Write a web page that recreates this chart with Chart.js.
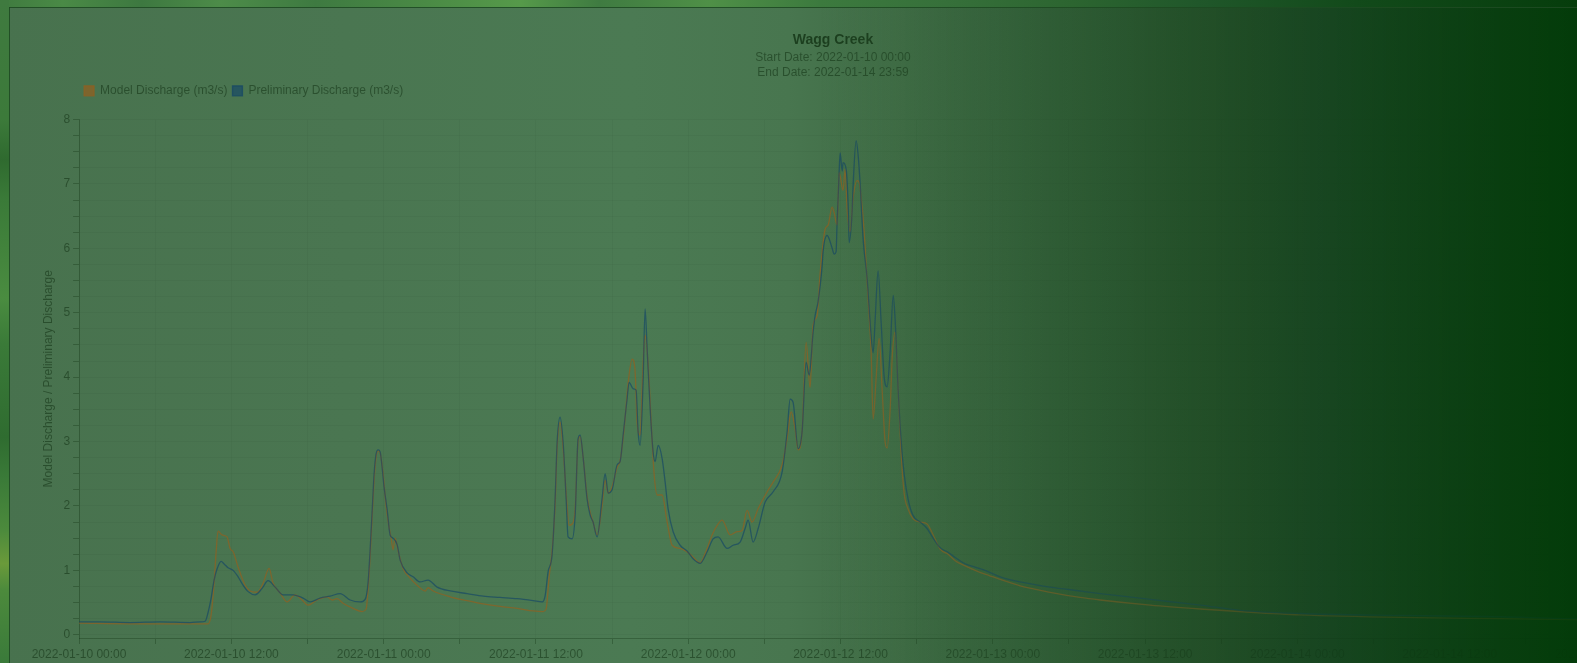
<!DOCTYPE html>
<html>
<head>
<meta charset="utf-8">
<title>Wagg Creek</title>
<script src="https://cdn.jsdelivr.net/npm/chart.js@4.4.0/dist/chart.umd.min.js"></script>
<style>
  html, body { margin: 0; padding: 0; width: 1577px; height: 663px; overflow: hidden; }
  body { position: relative; background: #3f7a3f; }
  #bg {
    position: absolute; left: 0; top: 0; width: 1577px; height: 663px;
    background: linear-gradient(to right,
      #48724e 0%, #4a7651 22%, #4b7a53 40%, #48764f 50%, #406d46 56%,
      #35623b 63%, #2b5831 70%, #224e27 77%, #184621 84%, #0d4014 92%, #043c0a 100%);
  }
  #plot { position: absolute; left: 10px; top: 8px; width: 1646px; height: 660px; }
  #fade {
    position: absolute; left: 0; top: 0; width: 1577px; height: 663px; pointer-events: none;
    background: linear-gradient(to right,
      rgba(72,118,79,0) 0%, rgba(72,118,79,0) 52%, rgba(64,109,70,0.1) 56%,
      rgba(53,98,59,0.25) 63%, rgba(43,88,49,0.38) 70%, rgba(34,78,39,0.5) 77%,
      rgba(24,70,33,0.64) 84%, rgba(13,64,20,0.78) 92%, rgba(4,60,10,0.88) 100%);
  }
  #topStrip {
    position: absolute; left: 0; top: 0; width: 1577px; height: 7px;
    background: linear-gradient(to right,
      #3f7a3f 0%, #4a8a46 4%, #3d7840 9%, #4d8c49 14%, #3e7a41 20%, #4a8a45 27%,
      #569a4a 33%, #3f7b41 38%, #4f9047 45%, #3c7a3e 52%, #36703a 60%, #2c6530 68%,
      #20572a 76%, #124a1a 86%, #063d0c 100%);
  }
  #leftStrip {
    position: absolute; left: 0; top: 0; width: 9px; height: 663px;
    background: linear-gradient(to bottom,
      #3f7a3f 0%, #3c7a3a 18%, #2f6a2f 24%, #3a7a38 30%, #4a8c40 45%, #3a7a38 52%,
      #2f6c30 66%, #3a7a38 72%, #4c8a3c 80%, #6a9a3a 85%, #4c8a3c 89%, #3a7a3a 100%);
  }
  #edgeTop { position: absolute; left: 9px; top: 7px; width: 1568px; height: 1px; background: rgba(30,75,34,0.9); }
  #edgeLeft { position: absolute; left: 9px; top: 7px; width: 1px; height: 656px; background: rgba(30,75,34,0.9); }
</style>
</head>
<body>
<div id="bg"></div>
<div id="plot"><canvas id="flowChart" width="1646" height="660"></canvas></div>
<div id="fade"></div>
<div id="topStrip"></div>
<div id="leftStrip"></div>
<div id="edgeTop"></div>
<div id="edgeLeft"></div>
<script>
// Hours since 2022-01-10 00:00 and discharge (m3/s)
const modelHours = [
  0, 4.02, 8.75, 9.54, 10.17, 10.40, 10.64, 10.80, 10.95, 11.27,
  11.66, 11.90, 12.14, 12.53, 13.08, 13.48, 14.03, 14.50, 14.97, 15.29,
  15.84, 16.39, 17.02, 17.57, 18.05, 18.75, 19.54, 19.94, 20.33, 20.80,
  21.59, 22.30, 22.62, 22.77, 22.93, 23.09, 23.25, 23.40, 23.56, 23.72,
  23.96, 24.19, 24.35, 24.59, 24.74, 24.90, 25.14, 25.53, 26.08, 26.64,
  27.27, 27.50, 27.90, 29.24, 30.58, 31.84, 33.18, 34.52, 35.78, 36.56,
  36.80, 37.04, 37.27, 37.51, 37.67, 37.90, 38.14, 38.38, 38.61, 38.85,
  39.09, 39.32, 39.48, 39.72, 40.03, 40.27, 40.50, 40.82, 41.21, 41.45,
  41.69, 42.00, 42.40, 42.63, 42.95, 43.26, 43.58, 43.81, 43.97, 44.21,
  44.44, 44.60, 44.84, 45.08, 45.31, 45.55, 45.94, 46.34, 46.73, 47.36,
  48.15, 48.94, 49.41, 49.88, 50.28, 50.67, 51.30, 51.85, 52.25, 52.64,
  53.03, 53.51, 54.22, 54.69, 55.40, 55.79, 56.11, 56.42, 56.66, 56.97,
  57.29, 57.60, 57.84, 58.16, 58.39, 58.79, 59.02, 59.34, 59.50, 59.73,
  59.89, 60.20, 60.36, 60.52, 60.76, 60.99, 61.31, 61.47, 61.62, 61.86,
  62.17, 62.41, 62.57, 62.81, 63.04, 63.28, 63.51, 63.67, 63.91, 64.07,
  64.30, 64.54, 64.78, 65.01, 65.33, 65.72, 66.27, 66.82, 67.30, 67.85,
  68.48, 69.03, 69.82, 70.61, 71.39, 72.58, 74.15, 76.52, 78.88, 80.46,
  84.40, 88.34, 92.28, 96.22, 104.10, 111.98, 119.98
];
const modelFlow = [
  0.18, 0.17, 0.17, 0.17, 0.17, 0.30, 0.80, 1.29, 1.61, 1.55,
  1.52, 1.34, 1.29, 1.05, 0.77, 0.68, 0.66, 0.80, 1.03, 0.80,
  0.65, 0.51, 0.62, 0.54, 0.46, 0.54, 0.59, 0.54, 0.56, 0.49,
  0.41, 0.36, 0.40, 0.70, 1.20, 1.80, 2.40, 2.75, 2.85, 2.82,
  2.50, 2.00, 1.76, 1.50, 1.32, 1.50, 1.30, 1.03, 0.88, 0.77,
  0.68, 0.73, 0.68, 0.59, 0.53, 0.48, 0.44, 0.41, 0.37, 0.36,
  0.40, 0.90, 1.30, 2.00, 2.90, 3.30, 2.90, 2.20, 1.70, 1.72,
  1.95, 3.00, 3.08, 2.75, 2.15, 1.90, 1.75, 1.55, 2.00, 2.40,
  2.20, 2.30, 2.60, 2.70, 3.20, 3.90, 4.28, 4.10, 3.29, 3.10,
  4.20, 4.65, 4.20, 3.30, 2.50, 2.17, 2.17, 1.75, 1.39, 1.34,
  1.25, 1.12, 1.30, 1.55, 1.70, 1.78, 1.55, 1.60, 1.62, 1.93,
  1.75, 1.96, 2.22, 2.37, 2.64, 3.05, 3.46, 3.20, 2.87, 3.15,
  4.54, 3.84, 4.81, 4.96, 5.60, 6.30, 6.36, 6.64, 6.55, 6.36,
  7.18, 6.90, 7.23, 6.60, 6.26, 6.78, 7.05, 7.02, 6.80, 6.26,
  5.21, 4.40, 3.35, 4.00, 4.60, 3.80, 3.00, 2.90, 3.50, 4.30,
  4.70, 3.80, 2.80, 2.20, 1.95, 1.80, 1.75, 1.72, 1.55, 1.33,
  1.25, 1.15, 1.07, 1.00, 0.94, 0.86, 0.76, 0.66, 0.58, 0.54,
  0.46, 0.40, 0.35, 0.31, 0.27, 0.25, 0.23
];
const prelimHours = [
  0, 1.65, 4.02, 6.38, 8.75, 9.54, 9.93, 10.17, 10.40, 10.64,
  10.87, 11.19, 11.43, 11.74, 12.14, 12.53, 12.92, 13.32, 13.87, 14.42,
  14.89, 15.45, 16.08, 16.86, 17.65, 18.20, 18.99, 19.78, 20.57, 21.36,
  22.14, 22.54, 22.77, 22.93, 23.09, 23.25, 23.40, 23.56, 23.72, 23.88,
  24.03, 24.27, 24.51, 24.74, 25.06, 25.30, 25.85, 26.32, 26.87, 27.50,
  28.21, 29.24, 30.58, 31.84, 33.18, 34.52, 35.78, 36.49, 36.72, 36.96,
  37.27, 37.51, 37.67, 37.90, 38.14, 38.38, 38.53, 38.85, 39.09, 39.32,
  39.48, 39.72, 40.03, 40.27, 40.50, 40.82, 41.21, 41.45, 41.69, 42.00,
  42.40, 42.63, 42.87, 43.18, 43.34, 43.66, 43.89, 44.05, 44.21, 44.44,
  44.60, 44.76, 45.00, 45.23, 45.39, 45.63, 45.94, 46.18, 46.41, 46.81,
  47.36, 47.91, 48.38, 48.94, 49.49, 49.96, 50.35, 51.06, 51.54, 52.09,
  52.48, 52.72, 53.11, 53.51, 54.06, 54.69, 55.40, 55.79, 56.03, 56.26,
  56.66, 56.97, 57.29, 57.53, 57.84, 58.00, 58.23, 58.55, 58.63, 58.94,
  59.10, 59.34, 59.50, 59.65, 59.73, 59.89, 59.97, 60.13, 60.20, 60.44,
  60.60, 60.68, 60.91, 60.99, 61.23, 61.39, 61.54, 61.78, 62.10, 62.33,
  62.57, 62.73, 62.96, 63.20, 63.44, 63.67, 63.91, 64.15, 64.30, 64.54,
  64.78, 65.01, 65.33, 65.72, 66.27, 66.82, 67.30, 67.85, 68.48, 69.03,
  69.82, 70.61, 71.39, 72.58, 74.15, 76.52, 78.88, 80.46, 84.40, 88.34,
  91.49, 96.22, 104.10, 111.98, 118.28, 119.98
];
const prelimFlow = [
  0.20, 0.20, 0.19, 0.20, 0.19, 0.20, 0.21, 0.35, 0.56, 0.85,
  1.02, 1.14, 1.10, 1.04, 1.00, 0.90, 0.77, 0.67, 0.62, 0.72,
  0.84, 0.74, 0.62, 0.62, 0.57, 0.51, 0.57, 0.60, 0.64, 0.54,
  0.51, 0.55, 0.80, 1.30, 1.90, 2.50, 2.80, 2.87, 2.84, 2.60,
  2.30, 1.95, 1.55, 1.50, 1.40, 1.16, 0.96, 0.90, 0.82, 0.85,
  0.74, 0.68, 0.64, 0.60, 0.58, 0.56, 0.53, 0.51, 0.60, 0.98,
  1.24, 2.11, 2.99, 3.38, 2.99, 2.11, 1.52, 1.49, 1.86, 3.04,
  3.10, 2.75, 2.11, 1.86, 1.75, 1.52, 2.11, 2.50, 2.20, 2.25,
  2.64, 2.69, 3.10, 3.66, 3.92, 3.82, 3.80, 3.15, 2.94, 3.92,
  5.06, 4.44, 3.51, 2.84, 2.69, 2.94, 2.74, 2.37, 1.96, 1.60,
  1.39, 1.30, 1.18, 1.11, 1.29, 1.49, 1.52, 1.34, 1.39, 1.44,
  1.65, 1.78, 1.44, 1.65, 2.06, 2.22, 2.53, 3.15, 3.66, 3.61,
  2.89, 3.15, 4.23, 4.03, 4.70, 4.96, 5.17, 5.73, 5.96, 6.20,
  6.15, 6.00, 5.91, 5.95, 6.40, 7.18, 7.48, 7.20, 7.33, 7.23,
  6.67, 6.09, 6.56, 6.97, 7.67, 7.44, 7.02, 6.14, 5.52, 4.85,
  4.38, 4.90, 5.65, 4.85, 4.00, 3.85, 4.40, 5.27, 4.90, 3.80,
  3.00, 2.50, 2.10, 1.85, 1.75, 1.65, 1.50, 1.35, 1.28, 1.20,
  1.10, 1.05, 1.00, 0.90, 0.82, 0.74, 0.68, 0.64, 0.55, 0.46,
  0.38, 0.33, 0.30, 0.28, 0.25, 0.25
];
// One label every 12 hours
const tickLabels = [
  '2022-01-10 00:00', '2022-01-10 12:00', '2022-01-11 00:00', '2022-01-11 12:00',
  '2022-01-12 00:00', '2022-01-12 12:00', '2022-01-13 00:00', '2022-01-13 12:00',
  '2022-01-14 00:00', '2022-01-14 12:00', '2022-01-15 00:00'
];

const modelColor = 'rgba(150,95,30,0.68)';
const prelimColor = 'rgba(15,65,105,0.6)';
const textColor = 'rgba(0,28,0,0.42)';
const gridColor = 'rgba(0,30,0,0.035)';
const tickMarkColor = 'rgba(0,30,0,0.26)';

function toPoints(xs, ys) {
  return xs.map((x, i) => ({ x: x, y: ys[i] }));
}

Chart.defaults.font.family = "'Liberation Sans', Arial, Helvetica, sans-serif";
Chart.defaults.font.size = 12;
Chart.defaults.color = textColor;

// Leaves a little room between the legend row and the plot area
const legendGap = {
  id: 'legendGap',
  beforeLayout(chart) {
    const legend = chart.legend;
    if (legend && !legend._gapAdded) {
      const fit = legend.fit;
      legend.fit = function () { fit.call(this); this.height += 12.7; };
      legend._gapAdded = true;
    }
  }
};

// Centres the title and subtitle on the page rather than on the padded canvas
const headingOffset = {
  id: 'headingOffset',
  afterLayout(chart) {
    chart.boxes.forEach((box) => {
      if (box !== chart.legend && box.position === 'top' && box.options &&
          typeof box.options.text !== 'undefined') {
        box.left += 13.5;
        box.right += 13.5;
      }
    });
  }
};

new Chart(document.getElementById('flowChart'), {
  type: 'line',
  data: {
    datasets: [
      {
        label: 'Model Discharge (m3/s)',
        data: toPoints(modelHours, modelFlow),
        borderColor: modelColor,
        backgroundColor: modelColor,
        borderWidth: 1.3,
        pointRadius: 0,
        cubicInterpolationMode: 'monotone',
        order: 1
      },
      {
        label: 'Preliminary Discharge (m3/s)',
        data: toPoints(prelimHours, prelimFlow),
        borderColor: prelimColor,
        backgroundColor: prelimColor,
        borderWidth: 1.3,
        pointRadius: 0,
        cubicInterpolationMode: 'monotone',
        order: 0
      }
    ]
  },
  plugins: [legendGap, headingOffset],
  options: {
    responsive: false,
    animation: false,
    devicePixelRatio: 1,
    events: [],
    layout: { padding: { top: 13, left: 27, right: 54, bottom: 3.6 } },
    plugins: {
      title: {
        display: true,
        text: 'Wagg Creek',
        color: 'rgba(0,28,0,0.6)',
        font: { size: 14, weight: 'bold', lineHeight: 1.2 },
        padding: { top: 11, bottom: 0 }
      },
      subtitle: {
        display: true,
        text: ['Start Date: 2022-01-10 00:00', 'End Date: 2022-01-14 23:59'],
        color: textColor,
        font: { size: 12, lineHeight: 1.25 },
        padding: { top: 1, bottom: 0 }
      },
      legend: {
        display: true,
        position: 'top',
        align: 'start',
        fullSize: false,
        labels: {
          boxWidth: 10,
          boxHeight: 10,
          padding: 5,
          color: textColor,
          font: { size: 12 },
          sort: (a, b) => a.datasetIndex - b.datasetIndex
        }
      },
      tooltip: { enabled: false }
    },
    scales: {
      x: {
        type: 'linear',
        min: 0,
        max: 120,
        grid: { color: gridColor, tickColor: tickMarkColor, tickLength: 6 },
        border: { color: tickMarkColor },
        ticks: {
          stepSize: 6,
          autoSkip: false,
          maxRotation: 0,
          minRotation: 0,
          padding: 3,
          color: textColor,
          callback: (value) => (value % 12 === 0 ? tickLabels[value / 12] : '')
        }
      },
      y: {
        type: 'linear',
        min: -0.05,
        max: 8,
        grid: { color: gridColor, tickColor: tickMarkColor, tickLength: 6 },
        border: { color: tickMarkColor },
        title: {
          display: true,
          text: 'Model Discharge / Preliminary Discharge',
          color: textColor,
          font: { size: 12 },
          padding: { top: 4, bottom: 5 }
        },
        ticks: {
          stepSize: 0.25,
          includeBounds: false,
          autoSkip: false,
          padding: 3,
          color: textColor,
          callback: (value) => (Number.isInteger(value) ? String(value) : '')
        }
      }
    }
  }
});
</script>
</body>
</html>
